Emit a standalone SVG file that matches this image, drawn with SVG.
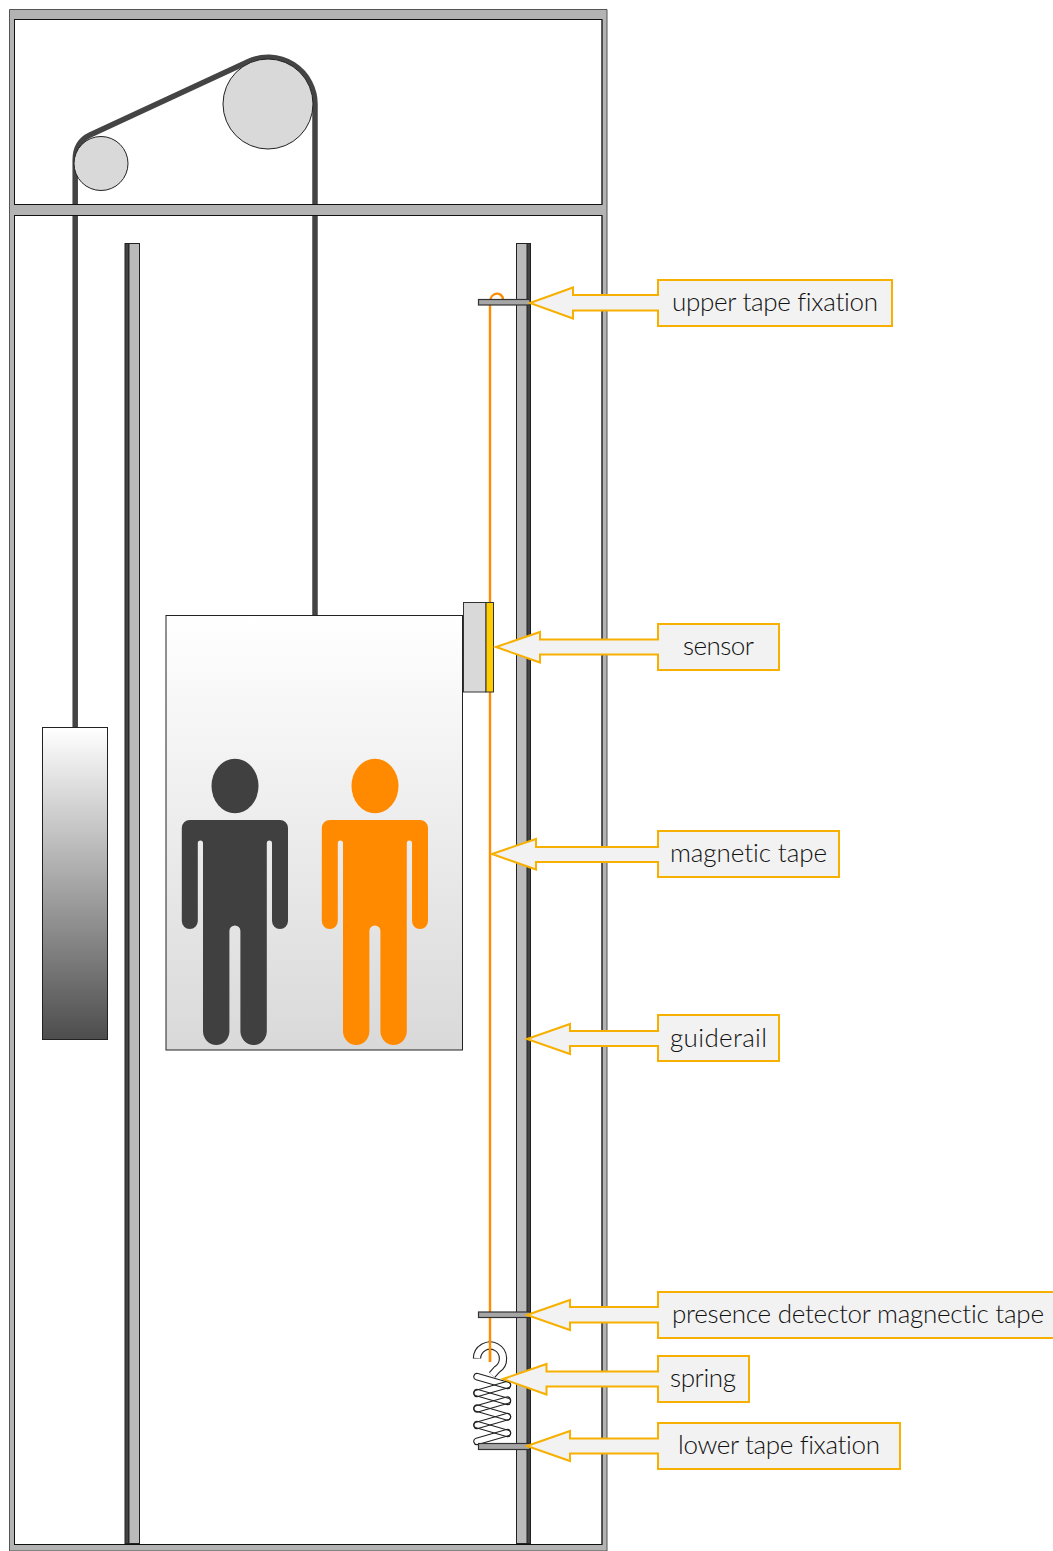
<svg xmlns="http://www.w3.org/2000/svg" width="1053" height="1551" viewBox="0 0 1053 1551">
<style>
.rope{fill:none;stroke:#444;stroke-width:5.500}
.pulley{fill:#d9d9d9;stroke:#222;stroke-width:1}
.rail{fill:#bbb;stroke:#222;stroke-width:1}
.raild{fill:#444;stroke:#222;stroke-width:1}
.bracket{fill:#a6a6a6;stroke:#333;stroke-width:1.200}
.tape{fill:none;stroke:#ff8c00;stroke-width:2.400}
.call{fill:#f2f2f2;stroke:#f7b000;stroke-width:2}
.lab{font-family:"Lato","Liberation Sans",sans-serif;font-size:26px;font-weight:300;font-variant-ligatures:none;fill:#111}
.coil{fill:none;stroke:#222;stroke-width:1.100}
.hk1{fill:none;stroke:#222;stroke-width:8.400}
.hk2{fill:none;stroke:#fff;stroke-width:6.200}
</style>
<defs>
<linearGradient id="gw" x1="0" y1="0" x2="0" y2="1"><stop offset="0" stop-color="#fff"/><stop offset="1" stop-color="#4d4d4d"/></linearGradient>
<linearGradient id="gc" x1="0" y1="0" x2="0" y2="1"><stop offset="0" stop-color="#fff"/><stop offset="1" stop-color="#d9d9d9"/></linearGradient>
<path id="body" d="M190 820H280a8 8 0 0 1 8 8V921a8 8 0 0 1-16 0V843a2.600 2.600 0 0 0-5.200 0V1031a13.200 14 0 0 1-26.400 0V931a5.500 5.500 0 0 0-11 0V1031a13.200 14 0 0 1-26.400 0V843a2.600 2.600 0 0 0-5.200 0V921a8 8 0 0 1-16 0V828a8 8 0 0 1 8-8z"/>
<rect id="seg" x="-19" y="-3.200" width="38" height="6.400" rx="3.200"/>
</defs>
<rect width="1053" height="1551" fill="#fff"/>
<g id="connectors">
<path id="rope" class="rope" d="M75.200 727V160Q75.200 142 90 135L248.500 61.500A47 47 0 0 1 315 104V615"/>
</g>
<g id="shaft">
<path d="M9.500 9.500H607V1551H9.500ZM14.500 19.500V204.500H602V19.500ZM14.500 215.500V1544.500H602V215.500Z" fill="#b3b3b3" fill-rule="evenodd" stroke="#555" stroke-width="1"/>
<rect x="14.500" y="19.500" width="587.500" height="185" fill="none" stroke="#111" stroke-width="1"/>
<rect x="14.500" y="215.500" width="587.500" height="1329" fill="none" stroke="#111" stroke-width="1"/>
</g>
<g id="pulley-small"><circle class="pulley" cx="101" cy="163.500" r="27"/></g>
<g id="pulley-large"><circle class="pulley" cx="268" cy="104" r="45"/></g>
<g id="rail-left"><rect class="raild" x="125" y="243.500" width="4" height="1300"/><rect class="rail" x="129" y="243.500" width="10.500" height="1300"/></g>
<g id="rail-right"><rect class="rail" x="516.500" y="243.500" width="11" height="1300"/><rect class="raild" x="527" y="243.500" width="3.500" height="1300"/></g>
<g id="counterweight"><rect x="42.500" y="727.500" width="65" height="312" fill="url(#gw)" stroke="#222"/></g>
<g id="car"><rect x="166" y="615.500" width="296.500" height="434.500" fill="url(#gc)" stroke="#222"/></g>
<g id="person-dark" fill="#404040"><ellipse cx="235" cy="786" rx="23.500" ry="27.300"/><use href="#body"/></g>
<g id="person-orange" fill="#ff8a00"><ellipse cx="375" cy="786" rx="23.500" ry="27.300"/><use href="#body" x="140"/></g>
<g id="magnetic-tape"><path class="tape" d="M490 1362V303C490 291 503 291 503 300"/></g>
<g id="sensor-body"><rect x="463.500" y="602.500" width="22.500" height="89.500" fill="#d9d9d9" stroke="#333"/><rect x="486" y="602.500" width="7.500" height="89.500" fill="#ffcc00" stroke="#333"/></g>
<g id="spring">
<g class="coil">
<use href="#seg" transform="translate(492.200 1381) rotate(16)"/>
<use href="#seg" transform="translate(492.200 1389) rotate(-16)"/>
<use href="#seg" transform="translate(492.200 1397) rotate(16)"/>
<use href="#seg" transform="translate(492.200 1404.500) rotate(-16)"/>
<use href="#seg" transform="translate(492.200 1412.500) rotate(16)"/>
<use href="#seg" transform="translate(492.200 1421) rotate(-16)"/>
<use href="#seg" transform="translate(492.200 1429) rotate(16)"/>
<use href="#seg" transform="translate(492.200 1437) rotate(-16)"/>
</g>
<path class="hk1" d="M477 1358.500A13 13 0 1 1 497 1369.500L492 1375"/>
<path class="hk2" d="M477 1358A13 13 0 1 1 497 1369.500L492 1375"/>
<path class="tape" d="M490 1340V1362"/>
</g>
<g id="bracket-upper"><rect class="bracket" x="478.500" y="299.500" width="51.500" height="5.500"/></g>
<g id="bracket-presence"><rect class="bracket" x="478.500" y="1312" width="51.500" height="5.500"/></g>
<g id="bracket-lower"><rect class="bracket" x="478.500" y="1443.500" width="51.500" height="6"/></g>
<g id="callout-upper"><path class="call" d="M530 303L573 287.500V295H658V280H892V326H658V310.500H573V318.500Z"/><text class="lab" x="672" y="311" textLength="206">upper tape fixation</text></g>
<g id="callout-sensor"><path class="call" d="M496 647L540 632V639.500H658V624H779V670H658V654.500H540V662.500Z"/><text class="lab" x="683" y="655" textLength="71">sensor</text></g>
<g id="callout-tape"><path class="call" d="M492 854L536 839V847H658V831H839V877H658V862H536V869.500Z"/><text class="lab" x="670" y="862" textLength="157">magnetic tape</text></g>
<g id="callout-guiderail"><path class="call" d="M527 1039L570 1024V1031H658V1015H779V1061H658V1046H570V1054Z"/><text class="lab" x="670" y="1047" textLength="97">guiderail</text></g>
<g id="callout-presence"><path class="call" d="M527 1315L570 1300V1307H658V1292H1054V1338H658V1322.500H570V1330Z"/><text class="lab" x="672" y="1323" textLength="372">presence detector magnectic tape</text></g>
<g id="callout-spring"><path class="call" d="M503 1379L546.500 1364V1371.500H658V1356H749V1402H658V1386.500H546.500V1394.500Z"/><text class="lab" x="670" y="1387" textLength="66">spring</text></g>
<g id="callout-lower"><path class="call" d="M527 1446L570 1431V1438.500H658V1423H900V1469H658V1453.500H570V1461Z"/><text class="lab" x="678" y="1454" textLength="202">lower tape fixation</text></g>
</svg>
